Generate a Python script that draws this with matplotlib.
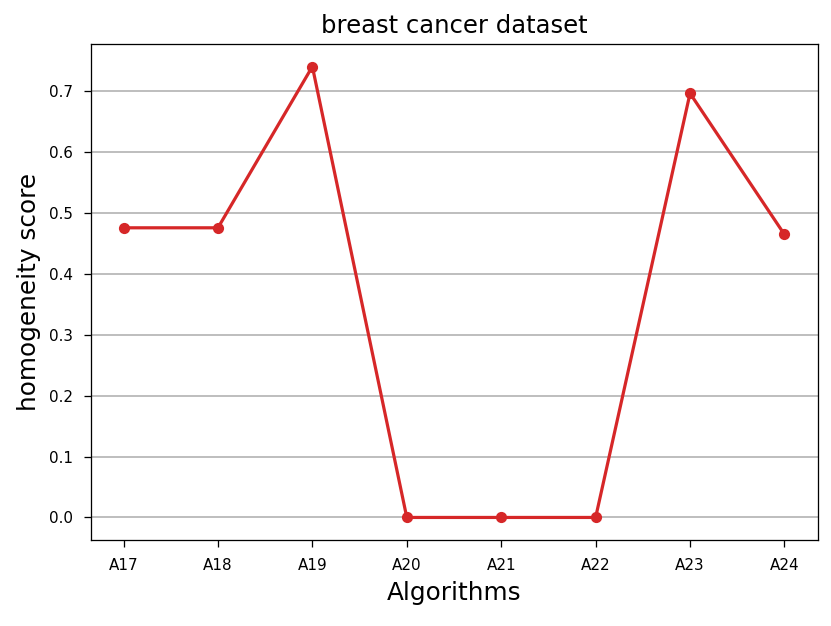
import numpy as np
import matplotlib
matplotlib.use('Agg')
import matplotlib.pyplot as plt

algorithms = ['A17', 'A18', 'A19', 'A20', 'A21', 'A22', 'A23', 'A24']
scores = [0.476, 0.476, 0.741, 0.0, 0.0, 0.0, 0.697, 0.465]

DPI = 115
fig = plt.figure(figsize=(831 / DPI, 626 / DPI), dpi=DPI)
ax = fig.add_axes([90.5 / 831, 86 / 626, 727 / 831, 496 / 626])

ax.plot(algorithms, scores, color='tab:red', marker='o', linewidth=2, markersize=6)
ax.grid(axis='y', color='#b0b0b0', linewidth=1)
ax.set_axisbelow(True)
ax.set_title('breast cancer dataset', fontsize=15.2, pad=7)
ax.set_xlabel('Algorithms', fontsize=15.5, labelpad=5)
ax.set_ylabel('homogeneity score', fontsize=15.5, labelpad=5)
ax.tick_params(labelsize=9.5, length=4.5, pad=6.5)

fig.savefig('out.png', dpi=DPI)
